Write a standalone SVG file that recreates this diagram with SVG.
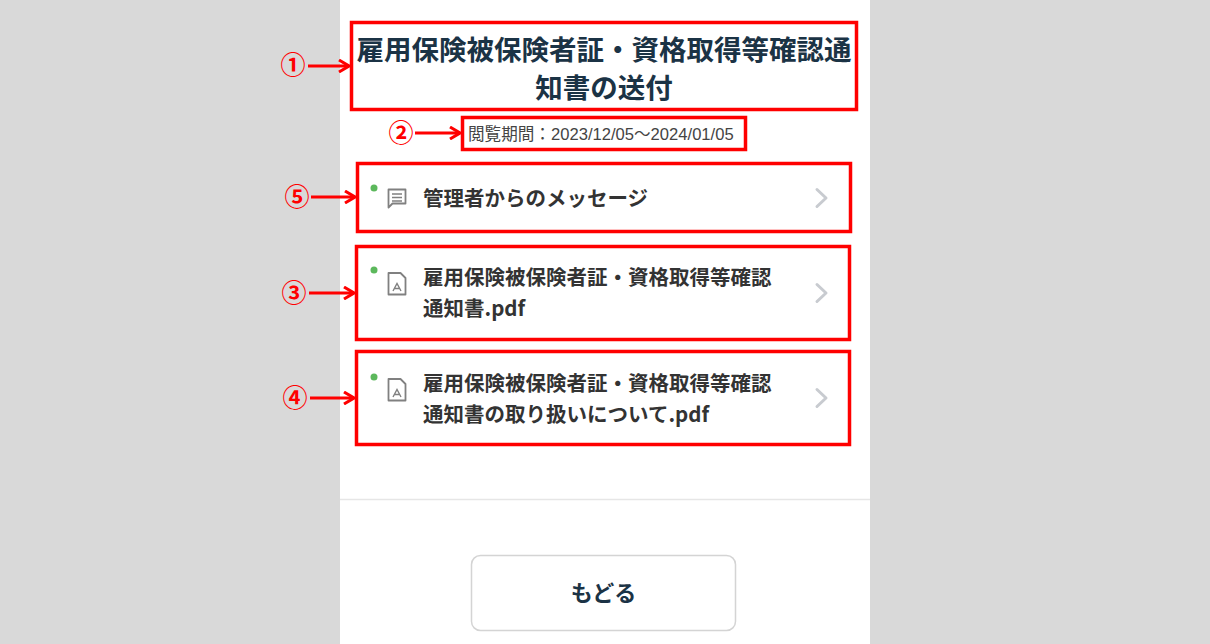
<svg xmlns="http://www.w3.org/2000/svg" width="1210" height="644" viewBox="0 0 1210 644">
<defs>
<style>
.jp{font-family:"Noto Sans CJK JP","Noto Sans",sans-serif}
.lat{font-family:"Liberation Sans","Noto Sans CJK JP",sans-serif}
.title{font-size:27.5px;font-weight:bold;fill:#1b3345;text-anchor:middle}
.item{font-size:20.5px;font-weight:bold;fill:#333333}
.period{font-size:16.6px;fill:#444444}
.num{font-size:25px;fill:#ff0000;text-anchor:middle;font-weight:bold}
.redbox{fill:none;stroke:#ff0000;stroke-width:3.5}
.conn{stroke:#ff0000;stroke-width:3;fill:none}
.chev{fill:none;stroke:#c8cbd0;stroke-width:3;stroke-linecap:round;stroke-linejoin:round}
.dot{fill:#5cb85c}
.icon{fill:none;stroke:#808080;stroke-width:1.8;stroke-linejoin:round}
</style>
<marker id="ah" viewBox="0 0 12 14" refX="11" refY="7" markerWidth="12" markerHeight="14" markerUnits="userSpaceOnUse" orient="auto">
<path d="M1,1 L11,7 L1,13" fill="none" stroke="#ff0000" stroke-width="3"/>
</marker>
</defs>
<rect width="1210" height="644" fill="#d9d9d9"/>
<rect x="340" y="0" width="530" height="644" fill="#ffffff"/>
<line x1="340" y1="499.5" x2="870" y2="499.5" stroke="#e6e6e6" stroke-width="1.5"/>

<g id="title">
<rect class="redbox" x="351.5" y="22.5" width="505" height="87"/>
<text class="jp title" x="604" y="60">雇用保険被保険者証・資格取得等確認通</text>
<text class="jp title" x="604" y="98">知書の送付</text>
</g>

<g id="period">
<rect class="redbox" x="462.5" y="117.5" width="283" height="32"/>
<text class="lat period" x="468" y="140">閲覧期間：2023/12/05～2024/01/05</text>
</g>

<g id="message">
<rect class="redbox" x="357.5" y="163.5" width="493" height="68"/>
<circle class="dot" cx="374" cy="188" r="3.5"/>
<path class="icon" d="M388.5,189.5 h17 v14 h-13 l-4,4 z"/>
<path d="M392,194 h10 M392,197.5 h10 M392,201 h10" stroke="#808080" stroke-width="1.6"/>
<text class="jp item" x="423" y="205.5">管理者からのメッセージ</text>
<path class="chev" d="M817,189.5 L826,198 L817,206.5"/>
</g>

<g id="pdf1">
<rect class="redbox" x="356.5" y="246.5" width="493" height="93"/>
<circle class="dot" cx="374" cy="270" r="3.5"/>
<path class="icon" d="M388.5,273 h12 l5,5 v16.5 h-17 z"/>
<path d="M393,291 L397,283.5 L401,291 M394.5,288.5 h5" fill="none" stroke="#808080" stroke-width="1.4"/>
<text class="jp item" x="423" y="284.5">雇用保険被保険者証・資格取得等確認</text>
<text class="jp item" x="423" y="315.5">通知書.pdf</text>
<path class="chev" d="M817,284.5 L826,293 L817,301.5"/>
</g>

<g id="pdf2">
<rect class="redbox" x="356.5" y="351.5" width="493" height="93"/>
<circle class="dot" cx="374" cy="377" r="3.5"/>
<path class="icon" d="M388.5,379 h12 l5,5 v16.5 h-17 z"/>
<path d="M393,397 L397,389.5 L401,397 M394.5,394.5 h5" fill="none" stroke="#808080" stroke-width="1.4"/>
<text class="jp item" x="423" y="390.5">雇用保険被保険者証・資格取得等確認</text>
<text class="jp item" x="423" y="421.5">通知書の取り扱いについて.pdf</text>
<path class="chev" d="M817,389.5 L826,398 L817,406.5"/>
</g>

<g id="back-button">
<rect x="471.5" y="555.5" width="264" height="75" rx="9" fill="#ffffff" stroke="#d4d4d4" stroke-width="1.5"/>
<text class="jp" x="603.5" y="601" font-size="22" font-weight="bold" fill="#1b3345" text-anchor="middle">もどる</text>
</g>

<g id="labels">
<text class="jp num" x="293" y="74">①</text>
<text class="jp num" x="401" y="142">②</text>
<text class="jp num" x="297" y="206">⑤</text>
<text class="jp num" x="294" y="302">③</text>
<text class="jp num" x="295" y="407">④</text>
</g>

<g id="connectors">
<line class="conn" x1="308" y1="66" x2="349" y2="66" marker-end="url(#ah)"/>
<line class="conn" x1="415" y1="133" x2="460" y2="133" marker-end="url(#ah)"/>
<line class="conn" x1="311" y1="197" x2="355" y2="197" marker-end="url(#ah)"/>
<line class="conn" x1="309" y1="293" x2="354" y2="293" marker-end="url(#ah)"/>
<line class="conn" x1="310" y1="398" x2="354" y2="398" marker-end="url(#ah)"/>
</g>
</svg>
